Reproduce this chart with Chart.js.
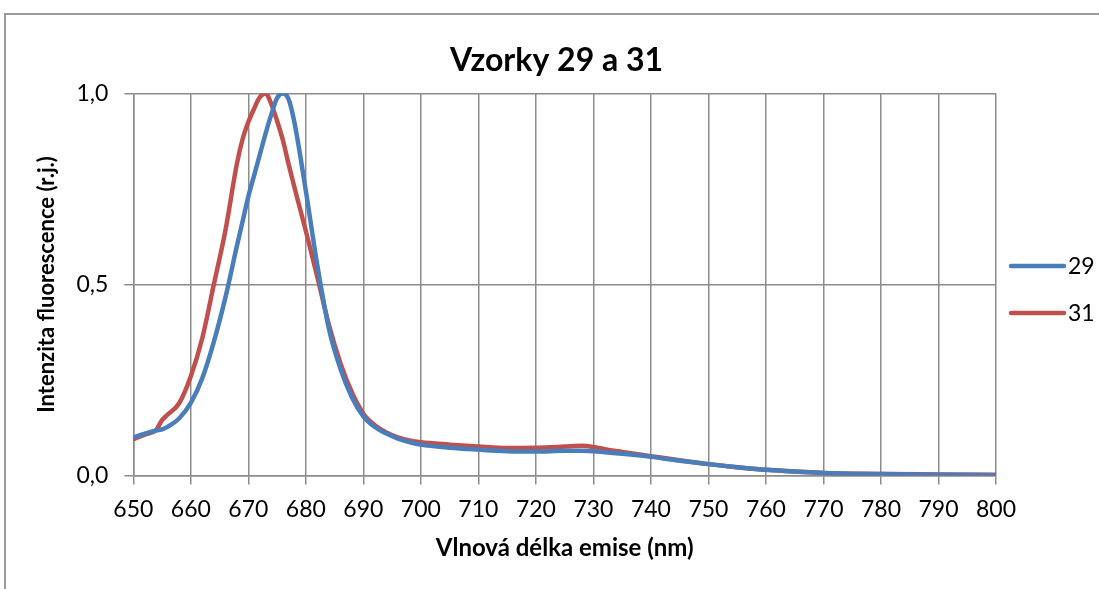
<!DOCTYPE html>
<html>
<head>
<meta charset="utf-8">
<script src="https://cdn.jsdelivr.net/npm/chart.js@4"></script>
<style>
  html, body { margin: 0; padding: 0; background: #fff; }
  #wrap { position: relative; width: 1099px; height: 589px; }
  #frame { position: absolute; left: 4px; top: 13px; right: -10px; bottom: -10px;
           border-left: 2px solid #9a9a9a; border-top: 2px solid #9a9a9a; pointer-events: none; }
</style>
</head>
<body>
<div id="wrap">
  <canvas id="c" width="1099" height="589"></canvas>
  <div id="frame"></div>
</div>
<script>
// --- data ---
const wavelengths = [650, 652, 654, 655, 656, 658, 660, 662, 664, 666,
  668, 669, 670, 671, 672, 673, 674, 675, 676, 677,
  678, 680, 682, 684, 686, 688, 690, 692, 694, 696,
  698, 700, 705, 710, 715, 720, 725, 728, 730, 732,
  735, 740, 745, 750, 755, 760, 765, 770, 780, 790, 800];

const sample29 = [0.100, 0.110, 0.118, 0.121, 0.128, 0.150, 0.190, 0.255, 0.350, 0.465,
  0.600, 0.665, 0.730, 0.785, 0.840, 0.895, 0.945, 0.988, 1.000, 0.985,
  0.925, 0.745, 0.550, 0.385, 0.280, 0.205, 0.155, 0.127, 0.110, 0.097,
  0.088, 0.081, 0.073, 0.068, 0.064, 0.063, 0.065, 0.065, 0.064, 0.061,
  0.057, 0.049, 0.039, 0.030, 0.022, 0.015, 0.011, 0.007, 0.004, 0.002, 0.001];

const sample31 = [0.095, 0.107, 0.120, 0.145, 0.160, 0.190, 0.260, 0.360, 0.500, 0.640,
  0.815, 0.880, 0.925, 0.960, 0.990, 1.000, 0.972, 0.928, 0.878, 0.815,
  0.755, 0.640, 0.520, 0.395, 0.295, 0.218, 0.162, 0.132, 0.113, 0.100,
  0.092, 0.087, 0.081, 0.076, 0.072, 0.073, 0.076, 0.078, 0.075, 0.069,
  0.062, 0.051, 0.040, 0.030, 0.022, 0.015, 0.011, 0.007, 0.004, 0.003, 0.002];

const seriesNames = ['29', '31'];
const seriesColors = ['#4a7ebb', '#c0504d'];

const xTicks = [650, 660, 670, 680, 690, 700, 710, 720, 730, 740, 750, 760, 770, 780, 790, 800];
const yTicks = [0, 0.5, 1];

const FONT = 'Lato, "Open Sans", sans-serif';
const GRID = '#8c8c8c';

function toPoints(ys) {
  return wavelengths.map((x, i) => ({ x, y: ys[i] }));
}

// legend drawn by hand: line swatch + label, right of plot
const sideLegend = {
  id: 'sideLegend',
  afterDraw(chart) {
    const ctx = chart.ctx;
    const x0 = chart.chartArea.right + 15;
    const rows = [266, 313];
    ctx.save();
    chart.data.datasets.forEach((ds, i) => {
      const y = rows[i];
      ctx.strokeStyle = ds.borderColor;
      ctx.lineWidth = 4.5;
      ctx.lineCap = 'round';
      ctx.beginPath();
      ctx.moveTo(x0, y);
      ctx.lineTo(x0 + 53, y);
      ctx.stroke();
      ctx.fillStyle = '#000';
      ctx.font = '23px ' + FONT;
      ctx.textBaseline = 'middle';
      ctx.fillText(ds.label, x0 + 57, y + 1);
    });
    ctx.restore();
  }
};

const tickFixer = list => scale => { scale.ticks = list.map(v => ({ value: v })); };

new Chart(document.getElementById('c'), {
  type: 'line',
  data: {
    datasets: seriesNames.map((name, i) => ({
      label: name,
      data: toPoints(i === 0 ? sample29 : sample31),
      borderColor: seriesColors[i],
      backgroundColor: seriesColors[i],
      borderWidth: 4.5,
      pointRadius: 0,
      cubicInterpolationMode: 'monotone',
      fill: false
    }))
  },
  options: {
    responsive: false,
    animation: false,
    layout: { padding: { left: 14, right: 0, top: 0, bottom: 26 } },
    plugins: {
      legend: { display: false },
      tooltip: { enabled: false },
      title: {
        display: true,
        text: 'Vzorky 29 a 31',
        color: '#000',
        font: { family: FONT, size: 32, weight: 'bold' },
        padding: { top: 41, bottom: 14 }
      }
    },
    scales: {
      x: {
        type: 'linear',
        min: 650,
        max: 800,
        afterBuildTicks: tickFixer(xTicks),
        grid: { color: GRID, lineWidth: 1.5, tickLength: 9, tickColor: GRID },
        border: { color: GRID, width: 1.5 },
        ticks: { color: '#000', font: { family: FONT, size: 23 }, padding: 11, maxRotation: 0 },
        title: {
          display: true,
          text: 'Vlnová délka emise (nm)',
          color: '#000',
          font: { family: FONT, size: 24, weight: 'bold' },
          padding: { top: 0, bottom: 0 }
        }
      },
      y: {
        min: 0,
        max: 1,
        afterBuildTicks: tickFixer(yTicks),
        grid: { color: GRID, lineWidth: 1.5, tickLength: 9, tickColor: GRID },
        border: { color: GRID, width: 1.5 },
        ticks: {
          color: '#000',
          font: { family: FONT, size: 23 },
          padding: 16,
          callback: v => v.toFixed(1).replace('.', ',')
        },
        title: {
          display: true,
          text: 'Intenzita fluorescence (r.j.)',
          color: '#000',
          font: { family: FONT, size: 22, weight: 'bold' },
          padding: { top: 20, bottom: 0 }
        }
      },
      // empty axis only to reserve room for the legend on the right
      side: {
        position: 'right',
        display: true,
        grid: { display: false },
        border: { display: false },
        ticks: { display: false },
        afterFit: s => { s.width = 103; }
      }
    }
  },
  plugins: [sideLegend]
});
</script>
</body>
</html>
